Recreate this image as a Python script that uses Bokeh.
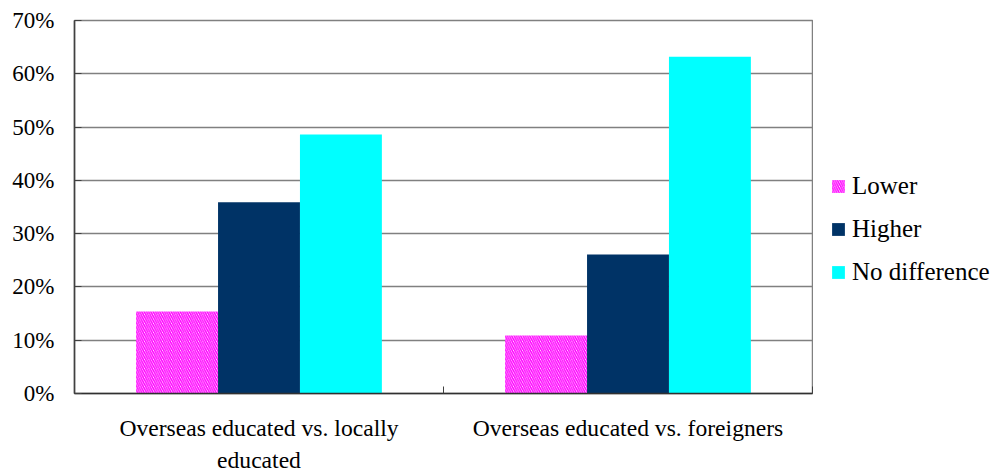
from bokeh.plotting import figure
from bokeh.layouts import row
from bokeh.models import (Range1d, FixedTicker, NumeralTickFormatter,
                          Legend, LegendItem, ColumnDataSource, LinearAxis)
from bokeh.embed import file_html
from bokeh.resources import INLINE

# Comparison groups; the first label wraps onto a second line
categories = ["Overseas educated vs. locally educated",
              "Overseas educated vs. foreigners"]
label_line1 = ["Overseas educated vs. locally", "Overseas educated vs. foreigners"]
label_line2 = ["educated", ""]

# Share of respondents per answer
series = ["Lower", "Higher", "No difference"]
lower = [0.154, 0.109]
higher = [0.359, 0.261]
no_difference = [0.486, 0.632]

y_ticks = [0.0, 0.1, 0.2, 0.3, 0.4, 0.5, 0.6, 0.7]

FONT = "Liberation Serif"

# bar styles shared by the chart and its legend
styles = [
    dict(fill_color="white", line_color=None,
         hatch_pattern="left_diagonal_line", hatch_color="#FF00FF",
         hatch_weight=1.5, hatch_scale=4.5),
    dict(fill_color="#003366", line_color=None),
    dict(fill_color="#00FFFF", line_color=None),
]

# one unit of x per group, groups centred on half units
n = len(categories)
centers = [i + 0.5 for i in range(n)]
bounds = [float(i) for i in range(n + 1)]
bw = 0.222

src = ColumnDataSource(dict(
    cat=categories,
    x_low=[c - bw for c in centers], x_high=centers,
    x_nd=[c + bw for c in centers],
    lower=lower, higher=higher, nodiff=no_difference))

p = figure(width=813, height=476, x_range=Range1d(0, n),
           y_range=Range1d(0, 0.7), output_backend="svg",
           toolbar_location=None, tools="", x_axis_location=None,
           min_border_left=74, min_border_right=1,
           min_border_top=20, min_border_bottom=83)
p.background_fill_color = "white"
p.border_fill_color = "white"
p.outline_line_color = "#808080"
p.outline_line_width = 1.5

p.vbar(x="x_low", top="lower", width=bw, source=src, **styles[0])
p.vbar(x="x_high", top="higher", width=bw, source=src, **styles[1])
p.vbar(x="x_nd", top="nodiff", width=bw, source=src, **styles[2])

# bottom axis: first label line, with inward ticks between groups
xa = LinearAxis(ticker=FixedTicker(ticks=centers, minor_ticks=bounds),
                major_label_overrides=dict(zip(centers, label_line1)),
                major_tick_line_color=None,
                minor_tick_in=7, minor_tick_out=0,
                minor_tick_line_color="#404040",
                axis_line_color="#303030", axis_line_width=1.5,
                major_label_standoff=15,
                major_label_text_font=FONT,
                major_label_text_font_size="23.6px",
                major_label_text_color="black")
p.add_layout(xa, "below")

# second line of the wrapped group label
wrapped = {c: t for c, t in zip(centers, label_line2) if t}
xa2 = LinearAxis(ticker=FixedTicker(ticks=list(wrapped), minor_ticks=[]),
                 major_label_overrides=wrapped,
                 axis_line_color=None, major_tick_line_color=None,
                 minor_tick_line_color=None, major_label_standoff=-3,
                 major_label_text_font=FONT,
                 major_label_text_font_size="23.6px",
                 major_label_text_color="black")
p.add_layout(xa2, "below")

# y axis
p.yaxis.ticker = FixedTicker(ticks=y_ticks)
p.yaxis.formatter = NumeralTickFormatter(format="0%")
p.yaxis.major_tick_in = 7
p.yaxis.major_tick_out = 0
p.yaxis.minor_tick_line_color = None
p.yaxis.axis_line_color = "#404040"
p.yaxis.major_tick_line_color = "#404040"
p.yaxis.axis_line_width = 1.5
p.yaxis.major_label_standoff = 20
p.yaxis.major_label_text_align = "right"
p.yaxis.major_label_text_font = FONT
p.yaxis.major_label_text_font_size = "23px"
p.yaxis.major_label_text_color = "black"

p.xgrid.grid_line_color = None
p.ygrid.ticker = FixedTicker(ticks=y_ticks)
p.ygrid.grid_line_color = "#808080"
p.ygrid.grid_line_width = 1.5

# legend panel beside the chart; its swatches carry the same bar styles
# (each swatch renderer holds one bar placed outside the visible range)
lg = figure(width=187, height=476, x_range=Range1d(0, 1), y_range=Range1d(0, 1),
            output_backend="svg", toolbar_location=None, tools="",
            x_axis_location=None, y_axis_location=None, min_border=0)
lg.outline_line_color = None
lg.background_fill_color = "white"
lg.border_fill_color = "white"
lg.grid.grid_line_color = None
swatches = [lg.vbar(x=[5], top=[0.5], width=bw, **st) for st in styles]

legend = Legend(items=[LegendItem(label=s, renderers=[r], index=0)
                       for s, r in zip(series, swatches)],
                location=(17, 107), padding=0, margin=0, spacing=15,
                glyph_width=16, glyph_height=16, label_height=16,
                label_standoff=6, border_line_color=None,
                background_fill_color=None,
                label_text_font=FONT, label_text_font_size="25px",
                label_text_color="black")
lg.add_layout(legend, "center")

layout = row(p, lg, spacing=0)
open("out.html", "w").write(file_html(layout, INLINE))
